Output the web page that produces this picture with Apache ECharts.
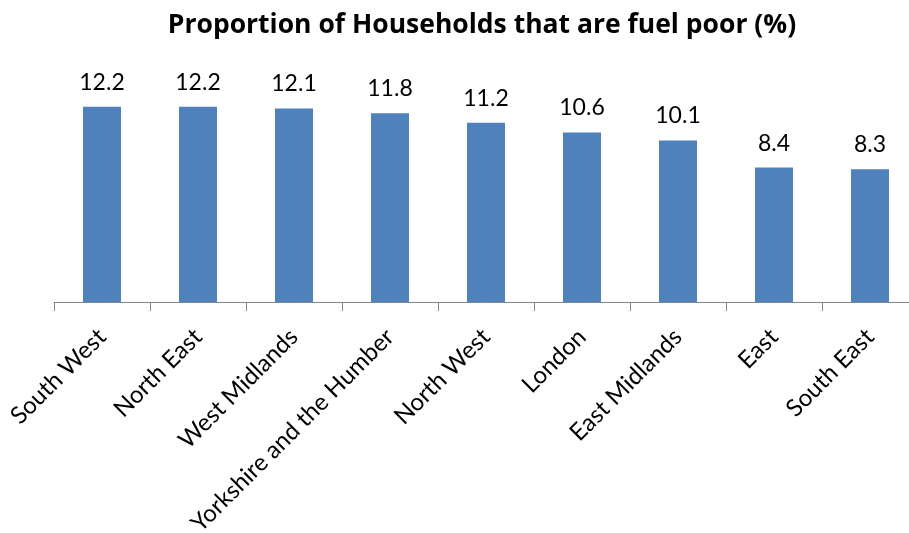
<!DOCTYPE html>
<html>
<head>
<meta charset="utf-8">
<script src="https://cdn.jsdelivr.net/npm/echarts@6/dist/echarts.min.js"></script>
<style>
html,body{margin:0;padding:0;background:#fff;}
#chart{width:909px;height:533px;}
</style>
</head>
<body>
<div id="chart"></div>
<script>
const titleText = 'Proportion of Households that are fuel poor (%)';
const categories = ['South West','North East','West Midlands','Yorkshire and the Humber','North West','London','East Midlands','East','South East'];
const values = [12.2, 12.2, 12.1, 11.8, 11.2, 10.6, 10.1, 8.4, 8.3];

const chart = echarts.init(document.getElementById('chart'));
chart.setOption({
  animation: false,
  backgroundColor: '#fff',
  title: {
    text: titleText,
    left: 477,
    textAlign: 'center',
    top: 7,
    textStyle: { fontFamily: 'Open Sans', fontWeight: 'bold', fontSize: 26.5, color: '#000' }
  },
  grid: { left: 54, width: 864, top: 78, height: 224, outerBoundsMode: 'none', containLabel: false },
  xAxis: {
    type: 'category',
    data: categories,
    axisLine: { lineStyle: { color: '#868686', width: 1 } },
    axisTick: { show: true, length: 9, lineStyle: { color: '#868686' } },
    axisLabel: { rotate: 45, interval: 0, fontFamily: 'Lato', fontSize: 24, color: '#000', margin: 31 }
  },
  yAxis: {
    type: 'value', min: 0, max: 14,
    show: false,
    splitLine: { show: false }
  },
  series: [{
    type: 'bar',
    data: values,
    barWidth: 38,
    itemStyle: { color: '#4F81BD' },
    label: { show: true, position: 'top', distance: 13, fontFamily: 'Lato', fontSize: 23, color: '#000' }
  }]
});
</script>
</body>
</html>
